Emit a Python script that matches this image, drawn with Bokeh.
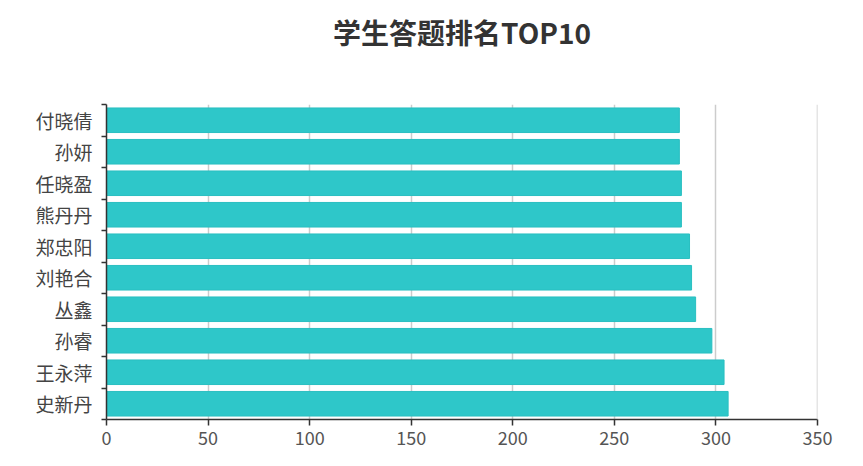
from bokeh.plotting import figure
from bokeh.models import Range1d, FixedTicker, Span, Title
from bokeh.embed import file_html
from bokeh.resources import INLINE

# data, listed bottom to top
names = ["史新丹", "王永萍", "孙睿", "丛鑫", "刘艳合", "郑忠阳", "熊丹丹", "任晓盈", "孙妍", "付晓倩"]
scores = [306, 304, 298, 290, 288, 287, 283, 283, 282, 282]
x_ticks = [0, 50, 100, 150, 200, 250, 300, 350]
title_text = "学生答题排名TOP10"

FONT = "Noto Sans CJK SC"
centers = [i + 0.5 for i in range(len(names))]
bounds = [i for i in range(len(names) + 1)]

p = figure(width=855, height=458, output_backend="svg", toolbar_location=None,
           x_range=Range1d(0, 350), y_range=Range1d(0, len(names)),
           min_border_left=106, min_border_right=38, min_border_top=104, min_border_bottom=39)
p.outline_line_color = None
p.background_fill_color = "white"
p.border_fill_color = "white"

# spacer between frame and title (stacked closest to the frame)
p.add_layout(Title(text=" ", text_font=FONT, text_font_size="10px", standoff=36), "above")

p.title.text = title_text
p.title.align = "center"
p.title.text_font = FONT
p.title.text_font_size = "28px"
p.title.text_font_style = "bold"
p.title.text_color = "#333333"
p.title.standoff = 0

p.hbar(y=centers, right=scores, left=0, height=0.78,
       fill_color="#2ec7c9", line_color="#29bfc1", line_width=1)

# x axis
p.xaxis.ticker = FixedTicker(ticks=x_ticks)
p.xaxis.axis_line_color = "#333333"
p.xaxis.axis_line_width = 1.5
p.xaxis.major_tick_line_color = "#333333"
p.xaxis.major_tick_line_width = 1.5
p.xaxis.major_tick_out = 6
p.xaxis.major_tick_in = 0
p.xaxis.minor_tick_line_color = None
p.xaxis.major_label_text_font = FONT
p.xaxis.major_label_text_font_size = "18px"
p.xaxis.major_label_text_color = "#555555"
p.xaxis.major_label_standoff = 5

# y axis
p.yaxis.ticker = FixedTicker(ticks=centers, minor_ticks=bounds)
p.yaxis.major_label_overrides = {c: n for c, n in zip(centers, names)}
p.yaxis.axis_line_color = "#333333"
p.yaxis.axis_line_width = 1.5
p.yaxis.major_tick_line_color = None
p.yaxis.minor_tick_line_color = "#333333"
p.yaxis.minor_tick_line_width = 1.5
p.yaxis.minor_tick_out = 5
p.yaxis.minor_tick_in = 0
p.yaxis.major_label_text_font = FONT
p.yaxis.major_label_text_font_size = "19px"
p.yaxis.major_label_text_color = "#444444"
p.yaxis.major_label_standoff = 8

p.xgrid.grid_line_color = "#cccccc"
p.xgrid.grid_line_width = 1.5
p.ygrid.grid_line_color = None
p.add_layout(Span(location=x_ticks[-1], dimension="height",
                  line_color="#cccccc", line_width=1.5))

open("out.html", "w").write(file_html(p, INLINE))
